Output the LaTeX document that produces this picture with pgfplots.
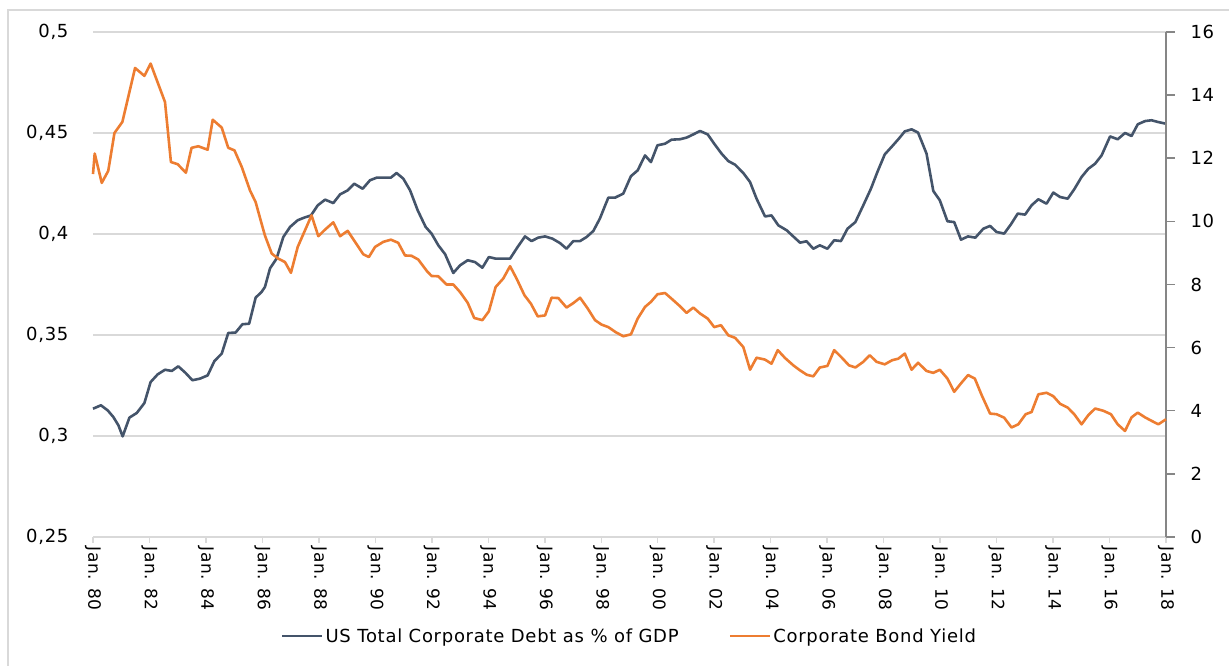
\documentclass[border=0pt]{standalone}
\usepackage{fontspec}
\setmainfont{DejaVu Sans}[LetterSpace=4]
\usepackage{pgfplots}
\usepackage{pgfplotstable}
\pgfplotsset{compat=1.18}
\definecolor{debt}{HTML}{44546A}
\definecolor{yieldc}{HTML}{ED7D31}
\definecolor{gridc}{HTML}{D9D9D9}
\definecolor{axc}{HTML}{868686}

\pgfplotstableread{
year val
1980.00 0.3135
1980.28 0.3152
1980.52 0.3127
1980.72 0.3094
1980.90 0.3053
1981.05 0.2998
1981.29 0.3091
1981.55 0.3114
1981.82 0.3163
1982.04 0.3267
1982.29 0.3305
1982.55 0.3328
1982.79 0.3322
1983.02 0.3345
1983.28 0.3312
1983.52 0.3276
1983.79 0.3284
1984.06 0.3300
1984.30 0.3371
1984.56 0.3408
1984.79 0.3510
1985.05 0.3512
1985.29 0.3553
1985.53 0.3556
1985.76 0.3685
1985.97 0.3713
1986.09 0.3738
1986.27 0.3830
1986.50 0.3878
1986.74 0.3985
1986.98 0.4035
1987.25 0.4068
1987.48 0.4081
1987.72 0.4092
1987.96 0.4142
1988.22 0.4170
1988.51 0.4153
1988.75 0.4196
1989.02 0.4216
1989.25 0.4249
1989.55 0.4224
1989.81 0.4266
1990.05 0.4279
1990.32 0.4279
1990.55 0.4279
1990.75 0.4302
1990.99 0.4274
1991.23 0.4216
1991.50 0.4117
1991.78 0.4035
1991.99 0.4002
1992.23 0.3944
1992.47 0.3900
1992.76 0.3807
1993.00 0.3845
1993.27 0.3870
1993.53 0.3861
1993.79 0.3833
1994.02 0.3886
1994.26 0.3878
1994.53 0.3878
1994.77 0.3878
1995.04 0.3936
1995.30 0.3988
1995.53 0.3965
1995.77 0.3982
1996.01 0.3988
1996.27 0.3977
1996.54 0.3955
1996.77 0.3927
1997.01 0.3965
1997.25 0.3965
1997.48 0.3985
1997.72 0.4015
1997.95 0.4076
1998.25 0.4180
1998.49 0.4180
1998.78 0.4200
1999.05 0.4286
1999.29 0.4315
1999.55 0.4389
1999.76 0.4356
1999.99 0.4439
2000.26 0.4447
2000.49 0.4467
2000.79 0.4469
2001.02 0.4477
2001.26 0.4493
2001.50 0.4510
2001.77 0.4493
2002.00 0.4447
2002.26 0.4398
2002.50 0.4361
2002.74 0.4343
2003.03 0.4302
2003.27 0.4257
2003.50 0.4175
2003.80 0.4087
2004.03 0.4092
2004.27 0.4043
2004.57 0.4018
2004.80 0.3988
2005.04 0.3957
2005.27 0.3964
2005.51 0.3927
2005.74 0.3944
2006.01 0.3927
2006.25 0.3969
2006.49 0.3965
2006.72 0.4026
2007.00 0.4059
2007.28 0.4142
2007.55 0.4224
2007.78 0.4307
2008.04 0.4394
2008.30 0.4434
2008.54 0.4472
2008.75 0.4508
2008.99 0.4518
2009.22 0.4502
2009.52 0.4398
2009.76 0.4213
2009.99 0.4167
2010.26 0.4063
2010.50 0.4059
2010.74 0.3972
2010.99 0.3988
2011.25 0.3982
2011.53 0.4026
2011.77 0.4040
2012.00 0.4010
2012.27 0.4002
2012.51 0.4048
2012.75 0.4101
2013.01 0.4096
2013.24 0.4142
2013.48 0.4172
2013.77 0.4150
2014.01 0.4205
2014.25 0.4183
2014.52 0.4175
2014.75 0.4221
2015.01 0.4282
2015.25 0.4323
2015.49 0.4348
2015.72 0.4389
2016.02 0.4483
2016.29 0.4469
2016.55 0.4500
2016.78 0.4485
2017.00 0.4543
2017.26 0.4559
2017.49 0.4563
2017.73 0.4554
2018.00 0.4546
}\debttable

\pgfplotstableread{
year val
1980.00 11.50
1980.06 12.15
1980.31 11.22
1980.54 11.60
1980.76 12.80
1981.04 13.15
1981.49 14.86
1981.82 14.61
1982.04 15.00
1982.55 13.78
1982.76 11.88
1983.00 11.81
1983.29 11.54
1983.49 12.33
1983.73 12.38
1984.06 12.27
1984.24 13.22
1984.56 12.97
1984.79 12.33
1985.01 12.25
1985.27 11.72
1985.56 10.98
1985.76 10.61
1985.97 9.93
1986.09 9.55
1986.33 8.98
1986.56 8.82
1986.80 8.71
1987.01 8.37
1987.25 9.19
1987.51 9.72
1987.74 10.19
1987.98 9.53
1988.22 9.74
1988.51 9.97
1988.75 9.53
1989.02 9.70
1989.28 9.35
1989.57 8.96
1989.77 8.87
1989.99 9.19
1990.28 9.35
1990.55 9.42
1990.81 9.32
1991.05 8.92
1991.28 8.91
1991.52 8.79
1991.82 8.43
1991.99 8.27
1992.23 8.26
1992.52 8.00
1992.76 8.00
1993.00 7.76
1993.27 7.42
1993.50 6.94
1993.79 6.87
1994.02 7.15
1994.26 7.92
1994.53 8.19
1994.77 8.58
1995.00 8.19
1995.28 7.66
1995.51 7.39
1995.75 6.99
1996.01 7.02
1996.24 7.58
1996.48 7.57
1996.77 7.27
1997.01 7.41
1997.25 7.58
1997.52 7.24
1997.78 6.87
1998.01 6.73
1998.25 6.65
1998.51 6.49
1998.78 6.36
1999.05 6.42
1999.29 6.92
1999.55 7.29
1999.76 7.45
1999.99 7.69
2000.26 7.73
2000.49 7.55
2000.79 7.31
2001.02 7.10
2001.26 7.27
2001.50 7.08
2001.77 6.92
2002.00 6.65
2002.24 6.71
2002.50 6.39
2002.74 6.31
2003.03 6.02
2003.27 5.30
2003.50 5.68
2003.80 5.62
2004.03 5.49
2004.25 5.92
2004.51 5.67
2004.80 5.44
2005.04 5.28
2005.28 5.14
2005.51 5.09
2005.74 5.37
2006.01 5.42
2006.25 5.92
2006.51 5.69
2006.77 5.44
2007.00 5.37
2007.28 5.55
2007.51 5.76
2007.75 5.55
2008.04 5.47
2008.30 5.60
2008.52 5.65
2008.75 5.81
2008.99 5.30
2009.22 5.52
2009.52 5.26
2009.76 5.20
2009.99 5.30
2010.26 5.02
2010.50 4.60
2010.76 4.89
2010.99 5.13
2011.23 5.02
2011.47 4.50
2011.77 3.91
2012.00 3.89
2012.27 3.78
2012.53 3.47
2012.77 3.57
2013.03 3.89
2013.24 3.96
2013.48 4.52
2013.77 4.57
2014.01 4.46
2014.25 4.22
2014.52 4.10
2014.75 3.89
2015.01 3.57
2015.25 3.86
2015.49 4.07
2015.78 4.00
2016.05 3.89
2016.29 3.57
2016.55 3.36
2016.78 3.79
2017.00 3.94
2017.26 3.79
2017.49 3.68
2017.73 3.57
2018.00 3.73
}\yieldtable

\begin{document}
\begin{tikzpicture}[x=1pt,y=1pt,font=\fontsize{18}{21}\selectfont]
\useasboundingbox (0,0) rectangle (1229,666);
\draw[gridc, line width=2pt] (8,0) -- (8,656) -- (1229,656);
\begin{axis}[
  at={(93pt,129pt)}, anchor=south west,
  scale only axis, width=1073pt, height=505pt,
  xmin=1980, xmax=2018, ymin=0.25, ymax=0.5,
  axis x line*=bottom, axis y line*=left,
  x axis line style={gridc, line width=2pt, -},
  y axis line style={draw=none},
  xtick={1980,1982,1984,1986,1988,1990,1992,1994,1996,1998,2000,2002,2004,2006,2008,2010,2012,2014,2016,2018},
  xticklabels={Jan. 80,Jan. 82,Jan. 84,Jan. 86,Jan. 88,Jan. 90,Jan. 92,Jan. 94,Jan. 96,Jan. 98,Jan. 00,Jan. 02,Jan. 04,Jan. 06,Jan. 08,Jan. 10,Jan. 12,Jan. 14,Jan. 16,Jan. 18},
  xticklabel style={rotate=-90, anchor=west, font=\fontsize{17}{20}\selectfont},
  xtick style={gridc, line width=1.5pt},
  ytick={0.25,0.3,0.35,0.4,0.45,0.5},
  ytick style={draw=none},
  tick align=outside, major tick length=6pt,
  ymajorgrids, grid style={gridc, line width=2pt},
  /pgf/number format/assume math mode=true,
  /pgf/number format/fixed, /pgf/number format/precision=2,
  /pgf/number format/use comma,
  yticklabel style={anchor=east, xshift=-15pt, font=\fontsize{18}{21}\selectfont},
  clip=false,
]
\addplot[debt, line width=2.6pt, line join=round] table[x=year,y=val]{\debttable};
\end{axis}
\begin{axis}[
  at={(93pt,129pt)}, anchor=south west,
  scale only axis, width=1073pt, height=505pt,
  xmin=1980, xmax=2018, ymin=0, ymax=16,
  axis y line*=right, axis x line=none,
  y axis line style={axc, line width=2pt, -},
  ytick={0,2,4,6,8,10,12,14,16},
  ytick style={axc, line width=1.5pt},
  tick align=outside, major tick length=9pt,
  /pgf/number format/assume math mode=true,
  yticklabel style={anchor=west, xshift=12pt, font=\fontsize{18}{21}\selectfont},
  clip=false,
  legend columns=2,
  legend style={at={(0.5,-0.196)}, anchor=center, draw=none, fill=none,
    font=\fontsize{18}{21}\selectfont,
    /tikz/every even column/.append style={column sep=48pt}},
  legend image code/.code={\draw[#1, line width=2.6pt] (0pt,0pt) -- (40pt,0pt);},
]
\addlegendimage{debt}
\addlegendentry{US Total Corporate Debt as \% of GDP}
\addplot[yieldc, line width=2.6pt, line join=round] table[x=year,y=val]{\yieldtable};
\addlegendentry{Corporate Bond Yield}
\end{axis}
\end{tikzpicture}
\end{document}
